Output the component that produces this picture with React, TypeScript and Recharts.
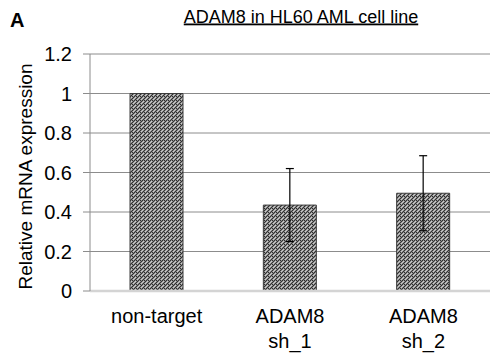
import React from "react";
import { BarChart, Bar, XAxis, YAxis, CartesianGrid, ErrorBar } from "recharts";

const categories = ["non-target", "ADAM8\nsh_1", "ADAM8\nsh_2"];
const expression = [1.0, 0.435, 0.495];
const errors = [0, 0.185, 0.19];
const yTicks = [0, 0.2, 0.4, 0.6, 0.8, 1, 1.2];
const yTickLabels = ["0", "0.2", "0.4", "0.6", "0.8", "1", "1.2"];

const data = categories.map((c, i) => ({ name: c, value: expression[i], err: errors[i] }));

const FONT = "'Liberation Sans', Arial, sans-serif";

const CatTick = (props: any) => {
  const { x, y, payload } = props;
  const lines = String(payload.value).split("\n");
  return (
    <text x={x} y={y} textAnchor="middle" fontFamily={FONT} fontSize={20} fill="#000">
      {lines.map((l, i) => (
        <tspan key={i} x={x} dy={i === 0 ? 24 : 25}>
          {l}
        </tspan>
      ))}
    </text>
  );
};

export default function App() {
  return (
    <div style={{ position: "absolute", left: 0, top: 0, width: 492, height: 356, background: "#fff", fontFamily: FONT }}>
      <svg width={0} height={0} style={{ position: "absolute" }}>
        <defs>
          <pattern id="checker" width="4" height="4" patternUnits="userSpaceOnUse">
            <rect x="0" y="0" width="4" height="4" fill="#8c8c8c" />
            <rect x="0" y="0" width="1" height="1" fill="#303030" />
            <rect x="2" y="0" width="1" height="1" fill="#303030" />
            <rect x="1" y="1" width="1" height="1" fill="#303030" />
            <rect x="3" y="1" width="1" height="1" fill="#cccccc" />
            <rect x="0" y="2" width="1" height="1" fill="#303030" />
            <rect x="2" y="2" width="1" height="1" fill="#cccccc" />
            <rect x="1" y="3" width="1" height="1" fill="#cccccc" />
            <rect x="3" y="3" width="1" height="1" fill="#303030" />
          </pattern>
        </defs>
      </svg>
      <div style={{ position: "absolute", left: 0, top: 0 }}>
        <BarChart
          width={492}
          height={356}
          data={data}
          margin={{ top: 54, right: 2, bottom: 0, left: 0 }}
          barCategoryGap="30%"
        >
          <CartesianGrid vertical={false} stroke="#8c8c8c" strokeWidth={1} />
          <XAxis
            xAxisId="t"
            type="number"
            domain={[0, 3]}
            ticks={[0, 1, 2, 3]}
            height={0}
            tick={false}
            axisLine={false}
            tickLine={{ stroke: "#8c8c8c" }}
            tickSize={7}
          />
          <XAxis
            dataKey="name"
            height={65}
            tick={<CatTick />}
            tickLine={false}
            axisLine={{ stroke: "#d4d4d4", strokeWidth: 2.5 }}
            interval={0}
          />
          <YAxis
            width={90}
            domain={[0, 1.2]}
            ticks={yTicks}
            tickFormatter={(v: number) => yTickLabels[yTicks.indexOf(v)] ?? String(v)}
            tick={{ fontFamily: FONT, fontSize: 20, fill: "#000" }}
            tickLine={{ stroke: "#8c8c8c" }}
            tickSize={7}
            tickMargin={11}
            axisLine={{ stroke: "#8c8c8c" }}
            interval={0}
          />
          <Bar dataKey="value" fill="url(#checker)" stroke="#3a3a3a" strokeWidth={1} isAnimationActive={false}>
            <ErrorBar dataKey="err" width={4} stroke="#000" strokeWidth={1.2} direction="y" />
          </Bar>
        </BarChart>
      </div>
      <svg width={492} height={356} style={{ position: "absolute", left: 0, top: 0, pointerEvents: "none" }}>
        <text x={10} y={27} fontFamily={FONT} fontSize={20} fontWeight="bold" fill="#000">
          A
        </text>
        <text x={301} y={22.5} textAnchor="middle" fontFamily={FONT} fontSize={18} fill="#000" textDecoration="underline">
          ADAM8 in HL60 AML cell line
        </text>
        <text
          x={0}
          y={0}
          transform="translate(32,176.5) rotate(-90)"
          textAnchor="middle"
          fontFamily={FONT}
          fontSize={19}
          fill="#000"
        >
          Relative mRNA expression
        </text>
      </svg>
    </div>
  );
}
